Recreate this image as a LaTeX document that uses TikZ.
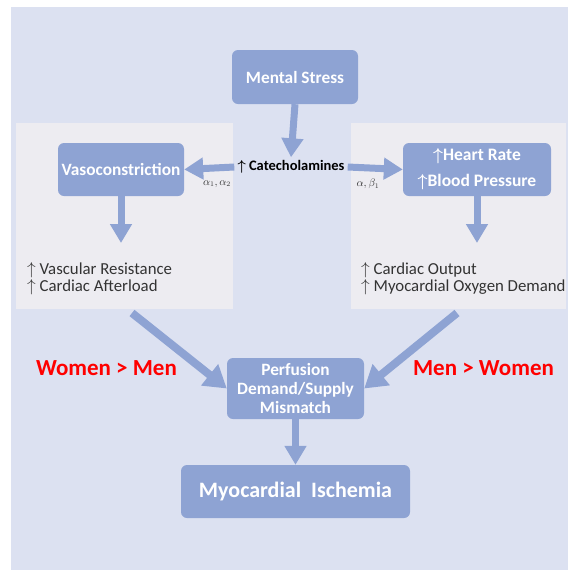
\documentclass[tikz,border=0pt]{standalone}
\usepackage{fontspec}
\setmainfont{Carlito}
\usepackage{tikz}
\usetikzlibrary{arrows.meta}
\definecolor{panelbg}{HTML}{DCE1F1}
\definecolor{sidebg}{HTML}{EDECF1}
\definecolor{boxblue}{HTML}{8EA3D3}

\begin{document}
\begin{tikzpicture}[x=1pt, y=-1pt,
      every node/.append style={font=\rmfamily},
      fat/.style={boxblue, line width=7pt, -{Triangle[width=21pt,length=19pt]}},
      fatter/.style={boxblue, line width=8pt, -{Triangle[width=26pt,length=22pt]}}]
    \tikzstyle{box} = [fill=boxblue, rounded corners=6pt, text=white, align=center,
                       font=\rmfamily\bfseries\boldmath\fontsize{17.3}{19}\selectfont]
    \tikzstyle{effect} = [anchor=west, align=left, inner sep=0pt, text=black!80,
                          font=\rmfamily\fontsize{16.8}{17}\selectfont]
    \tikzstyle{sex} = [text=red, font=\rmfamily\bfseries\fontsize{23}{26}\selectfont]
    \tikzstyle{recep} = [text=black!80, font=\fontsize{10.5}{11}\selectfont]
    % frame
    \fill[white] (0,0) rectangle (568,571);
    \fill[panelbg] (11,7) rectangle (568,570);
    \fill[sidebg] (16,123) rectangle (233,309);
    \fill[sidebg] (351,123) rectangle (566,309);
    % boxes
    \node[box, minimum width=126pt, minimum height=54pt] (stress) at (295,77) {Mental Stress};
    \node[box, minimum width=126pt, minimum height=53pt] (vaso) at (121,169.5) {Vasoconstriction};
    \node[box, minimum width=148pt, minimum height=53pt,
          font=\rmfamily\bfseries\boldmath\fontsize{17.5}{26}\selectfont] (hrbp) at (477,169.5)
      {$\uparrow$Heart Rate\\$\uparrow$Blood Pressure};
    \node[box, minimum width=137pt, minimum height=61pt, inner sep=1pt] (perf) at (295.5,388.5)
      {Perfusion\\Demand/Supply\\Mismatch};
    \node[box, minimum width=229pt, minimum height=53pt,
          font=\rmfamily\bfseries\fontsize{22}{24}\selectfont] (isch) at (295.5,491.5)
      {Myocardial\ \ Ischemia};
    \node[inner sep=3pt, font=\rmfamily\bfseries\boldmath\fontsize{14.5}{16}\selectfont] (cat) at (291,167)
      {$\uparrow$ Catecholamines};
    % effects
    \node[effect] (vtext) at (27,278.5) {$\uparrow$ Vascular Resistance\\$\uparrow$ Cardiac Afterload};
    \node[effect] (htext) at (361,278.5) {$\uparrow$ Cardiac Output\\$\uparrow$ Myocardial Oxygen Demand};
    \node[recep] (a12) at (217,184) {$\alpha_1,\alpha_2$};
    \node[recep] (ab1) at (368,184) {$\alpha,\beta_1$};
    \node[sex] (wm) at (106.5,368) {Women > Men};
    \node[sex] (mw) at (483.5,368) {Men > Women};
    \coordinate (vend) at (121,243);
    \coordinate (hend) at (477,243);
    \coordinate (lstart) at (132,313);
    \coordinate (rstart) at (457,313);
    % arrows
    \draw[fat] (stress.south) -- (cat.north);
    \draw[fat] (cat.west) -- (vaso.east);
    \draw[fat] (cat.east) -- (hrbp.west);
    \draw[fat] (vaso.south) -- (vend);
    \draw[fat] (hrbp.south) -- (hend);
    \draw[fatter] (lstart) -- (perf.west);
    \draw[fatter] (rstart) -- (perf.east);
    \draw[fat] (perf.south) -- (isch.north);
\end{tikzpicture}
\end{document}
